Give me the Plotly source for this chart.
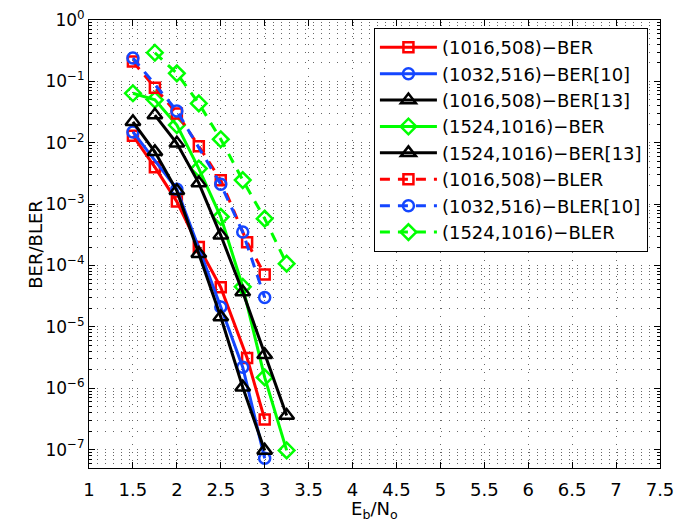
import plotly.graph_objects as go

# ---- data ----
x_red = [1.5, 1.75, 2.0, 2.25, 2.5, 2.8, 3.0]
ber_1016 = [0.013, 4.0e-3, 1.1e-3, 2.0e-4, 4.4e-5, 3.1e-6, 3.1e-7]
bler_1016 = [0.21, 0.079, 0.030, 8.8e-3, 2.45e-3, 2.4e-4, 7.1e-5]

x_blue = [1.5, 2.0, 2.5, 2.75, 3.0]
ber_1032 = [0.015, 1.75e-3, 2.1e-5, 2.2e-6, 7.2e-8]
bler_1032 = [0.24, 0.033, 2.1e-3, 3.5e-4, 3.0e-5]

x_blk1 = [1.5, 1.75, 2.0, 2.25, 2.5, 2.75, 3.0]
ber13_1016 = [0.0219, 7.1e-3, 1.65e-3, 1.56e-4, 1.45e-5, 1.04e-6, 9.7e-8]

x_grn = [1.5, 1.75, 2.0, 2.25, 2.5, 2.75, 3.0, 3.25]
ber_1524 = [0.064, 0.050, 0.0194, 3.8e-3, 6.2e-4, 4.5e-5, 1.5e-6, 9.7e-8]

x_blk2 = [1.75, 2.0, 2.25, 2.5, 2.75, 3.0, 3.25]
ber13_1524 = [0.0282, 9.8e-3, 2.2e-3, 3.1e-4, 3.7e-5, 3.5e-6, 3.6e-7]

x_grn2 = [1.75, 2.0, 2.25, 2.5, 2.75, 3.0, 3.25]
bler_1524 = [0.293, 0.135, 0.0437, 0.0114, 2.46e-3, 5.8e-4, 1.07e-4]

x_ticks = [1, 1.5, 2, 2.5, 3, 3.5, 4, 4.5, 5, 5.5, 6, 6.5, 7, 7.5]
x_ticktext = ["1", "1.5", "2", "2.5", "3", "3.5", "4", "4.5", "5", "5.5", "6", "6.5", "7", "7.5"]
y_exps = [-7, -6, -5, -4, -3, -2, -1, 0]
y_ticks = [10.0 ** e for e in y_exps]
y_ticktext = ["10<sup>%s</sup>" % (("\u2212" + str(-e)) if e < 0 else str(e)) for e in y_exps]
y_minor = [k * 10.0 ** e for e in range(-8, 0) for k in range(2, 10)]

x_title = "E<sub>b</sub>/N<sub>o</sub>"
y_title = "BER/BLER"

RED = "#FF0000"
BLUE = "#1446FF"
BLACK = "#000000"
GREEN = "#00FF00"
DASH = "10px,8px"
LW = 3

series = [
    ("(1016,508)\u2212BER", x_red, ber_1016, RED, "square-open", 10, "solid"),
    ("(1032,516)\u2212BER[10]", x_blue, ber_1032, BLUE, "circle-open", 11, "solid"),
    ("(1016,508)\u2212BER[13]", x_blk1, ber13_1016, BLACK, "triangle-up-open", 13, "solid"),
    ("(1524,1016)\u2212BER", x_grn, ber_1524, GREEN, "diamond-open", 12, "solid"),
    ("(1524,1016)\u2212BER[13]", x_blk2, ber13_1524, BLACK, "triangle-up-open", 13, "solid"),
    ("(1016,508)\u2212BLER", x_red, bler_1016, RED, "square-open", 10, DASH),
    ("(1032,516)\u2212BLER[10]", x_blue, bler_1032, BLUE, "circle-open", 11, DASH),
    ("(1524,1016)\u2212BLER", x_grn2, bler_1524, GREEN, "diamond-open", 12, DASH),
]

fig = go.Figure()
for name, xs, ys, col, sym, size, dash in series:
    fig.add_trace(go.Scatter(
        x=xs, y=ys, name=name, mode="lines+markers",
        line=dict(color=col, width=LW, dash=dash),
        marker=dict(symbol=sym, size=size, color=col, line=dict(color=col, width=2.5)),
    ))

FONT = "DejaVu Sans, Verdana, sans-serif"
FS = 18
GRIDC = "rgba(0,0,0,0.6)"
GRIDDASH = "1px,7px"

fig.update_layout(
    width=694, height=530,
    margin=dict(l=89, r=34, t=20, b=62),
    paper_bgcolor="white", plot_bgcolor="white",
    font=dict(family=FONT, size=FS, color="black"),
    showlegend=True,
    legend=dict(
        x=0.499, y=0.982, xanchor="left", yanchor="top",
        bgcolor="white", bordercolor="black", borderwidth=1,
        font=dict(family=FONT, size=FS, color="black"),
        itemwidth=57, tracegroupgap=0,
    ),
    xaxis=dict(
        range=[1, 7.5], tickmode="array", tickvals=x_ticks, ticktext=x_ticktext,
        showline=True, linecolor="black", linewidth=1, mirror="allticks",
        ticks="inside", ticklen=6, tickcolor="black", ticklabelstandoff=5,
        showgrid=True, gridcolor=GRIDC, griddash=GRIDDASH, gridwidth=1,
        zeroline=False, automargin=False, tickfont=dict(size=FS),
    ),
    yaxis=dict(
        type="log", range=[-7.3, 0], tickmode="array", tickvals=y_ticks, ticktext=y_ticktext,
        showline=True, linecolor="black", linewidth=1, mirror="allticks",
        ticks="inside", ticklen=6, tickcolor="black", ticklabeloverflow="allow",
        showgrid=True, gridcolor=GRIDC, griddash=GRIDDASH, gridwidth=1,
        zeroline=False, automargin=False,
        minor=dict(tickmode="array", tickvals=y_minor, ticks="inside", ticklen=3,
                   tickcolor="black", showgrid=True, gridcolor=GRIDC,
                   griddash=GRIDDASH, gridwidth=1),
        tickfont=dict(size=17),
    ),
    annotations=[
        dict(text=x_title, xref="paper", yref="paper", x=0.5, y=-0.093,
             xanchor="center", yanchor="middle", showarrow=False,
             font=dict(family=FONT, size=FS, color="black")),
        dict(text=y_title, xref="paper", yref="paper", x=-0.095, y=0.5,
             xanchor="center", yanchor="middle", showarrow=False, textangle=-90,
             font=dict(family=FONT, size=FS, color="black")),
    ],
)

# remove the default 8px page margin so the figure fills the window exactly
fig.write_html("out.html", config={"displayModeBar": False},
               post_script="document.body.style.margin='0px';")
